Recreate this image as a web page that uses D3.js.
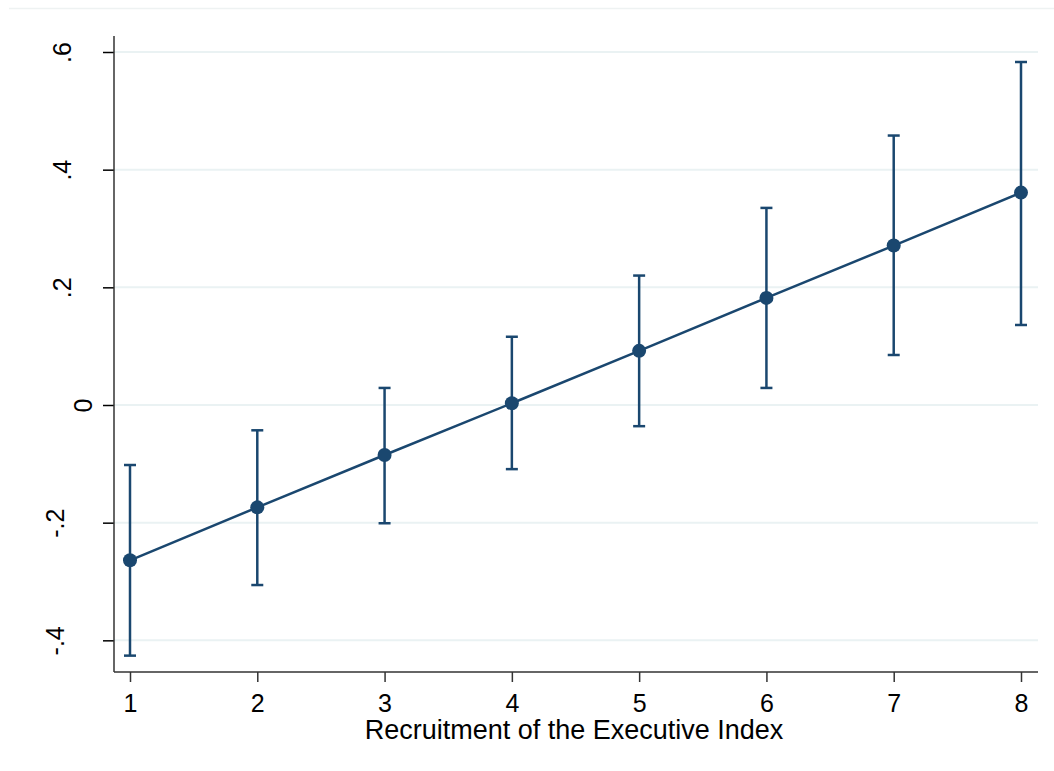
<!DOCTYPE html>
<html>
<head>
<meta charset="utf-8">
<script src="https://cdn.jsdelivr.net/npm/d3@7"></script>
<style>
  body { margin: 0; background: #fff; }
  svg { display: block; }
  .axis text { font-family: "Liberation Sans", Arial, sans-serif; font-size: 25px; fill: #000; }
</style>
</head>
<body>
<svg id="chart"></svg>
<script>
var width = 1054;
var height = 771;

// Recruitment of the Executive Index
var xValues = [1, 2, 3, 4, 5, 6, 7, 8];
var estimate = [-0.264, -0.174, -0.085, 0.003, 0.092, 0.182, 0.271, 0.361];
var ciLower = [-0.426, -0.306, -0.201, -0.109, -0.036, 0.029, 0.085, 0.136];
var ciUpper = [-0.102, -0.043, 0.029, 0.116, 0.220, 0.335, 0.458, 0.583];
var yTicks = [-0.4, -0.2, 0, 0.2, 0.4, 0.6];
var yTickLabels = ['-.4', '-.2', '0', '.2', '.4', '.6'];

var plot = {left: 114, right: 1038, top: 36, bottom: 672};
var navy = '#1a476f';

var svg = d3.select('#chart')
    .attr('width', width)
    .attr('height', height);

var xScale = d3.scaleLinear()
    .domain([1, 8])
    .range([130, 1021]);

var yScale = d3.scaleLinear()
    .domain([0, 0.6])
    .range([405, 52]);

// faint outer frame line at the top
svg.append('line')
    .attr('x1', 9).attr('x2', width)
    .attr('y1', 8.5).attr('y2', 8.5)
    .attr('stroke', '#eef2f2')
    .attr('stroke-width', 1.5);

// gridlines
svg.append('g')
    .selectAll('line')
    .data(yTicks)
    .enter()
    .append('line')
    .attr('x1', plot.left)
    .attr('x2', plot.right)
    .attr('y1', function(d){ return yScale(d); })
    .attr('y2', function(d){ return yScale(d); })
    .attr('stroke', '#eaf2f3')
    .attr('stroke-width', 2);

// y axis (labels rotated, stata places them by string length)
var baseX = {1: 92, 2: 71, 3: 64};

var yAxis = d3.axisLeft(yScale)
    .tickValues(yTicks)
    .tickFormat(function(d, i){ return yTickLabels[i]; })
    .tickSize(11)
    .tickPadding(0);

var gy = svg.append('g')
    .attr('class', 'axis')
    .attr('transform', 'translate(' + plot.left + ',0)')
    .call(yAxis);
gy.select('.domain').remove();
gy.selectAll('line').attr('stroke', '#000').attr('stroke-width', 1.5);
gy.selectAll('text')
    .attr('x', 0)
    .attr('y', 0)
    .attr('dy', null)
    .attr('text-anchor', 'middle')
    .attr('transform', function(d, i){
        var off = baseX[yTickLabels[i].length] - plot.left;
        return 'translate(' + off + ',0) rotate(-90)';
    });

svg.append('line')
    .attr('x1', plot.left).attr('x2', plot.left)
    .attr('y1', plot.top).attr('y2', plot.bottom)
    .attr('stroke', '#333')
    .attr('stroke-width', 1.5);

// x axis
var xAxis = d3.axisBottom(xScale)
    .tickValues(xValues)
    .tickFormat(d3.format('d'))
    .tickSize(10)
    .tickPadding(0);

var gx = svg.append('g')
    .attr('class', 'axis')
    .attr('transform', 'translate(0,' + plot.bottom + ')')
    .call(xAxis);
gx.select('.domain').remove();
gx.selectAll('line').attr('stroke', '#333').attr('stroke-width', 1.5);
gx.selectAll('text').attr('dy', null).attr('y', 712 - plot.bottom);

svg.append('line')
    .attr('x1', plot.left).attr('x2', plot.right)
    .attr('y1', plot.bottom).attr('y2', plot.bottom)
    .attr('stroke', '#333')
    .attr('stroke-width', 1.5);

svg.append('text')
    .attr('x', 574)
    .attr('y', 739)
    .attr('text-anchor', 'middle')
    .style('font-family', '"Liberation Sans", Arial, sans-serif')
    .style('font-size', '27px')
    .text('Recruitment of the Executive Index');

// error bars
var bars = svg.append('g').attr('stroke', navy).attr('stroke-width', 2.5);
xValues.forEach(function(x, i){
    var cx = xScale(x);
    bars.append('line')
        .attr('x1', cx).attr('x2', cx)
        .attr('y1', yScale(ciLower[i])).attr('y2', yScale(ciUpper[i]));
    bars.append('line')
        .attr('x1', cx - 6).attr('x2', cx + 6)
        .attr('y1', yScale(ciLower[i])).attr('y2', yScale(ciLower[i]));
    bars.append('line')
        .attr('x1', cx - 6).attr('x2', cx + 6)
        .attr('y1', yScale(ciUpper[i])).attr('y2', yScale(ciUpper[i]));
});

// connecting line
var line = d3.line()
    .x(function(d, i){ return xScale(xValues[i]); })
    .y(function(d){ return yScale(d); });

svg.append('path')
    .attr('d', line(estimate))
    .attr('fill', 'none')
    .attr('stroke', navy)
    .attr('stroke-width', 2.5);

svg.append('g')
    .selectAll('circle')
    .data(estimate)
    .enter()
    .append('circle')
    .attr('cx', function(d, i){ return xScale(xValues[i]); })
    .attr('cy', function(d){ return yScale(d); })
    .attr('r', 7)
    .attr('fill', navy);
</script>
</body>
</html>
